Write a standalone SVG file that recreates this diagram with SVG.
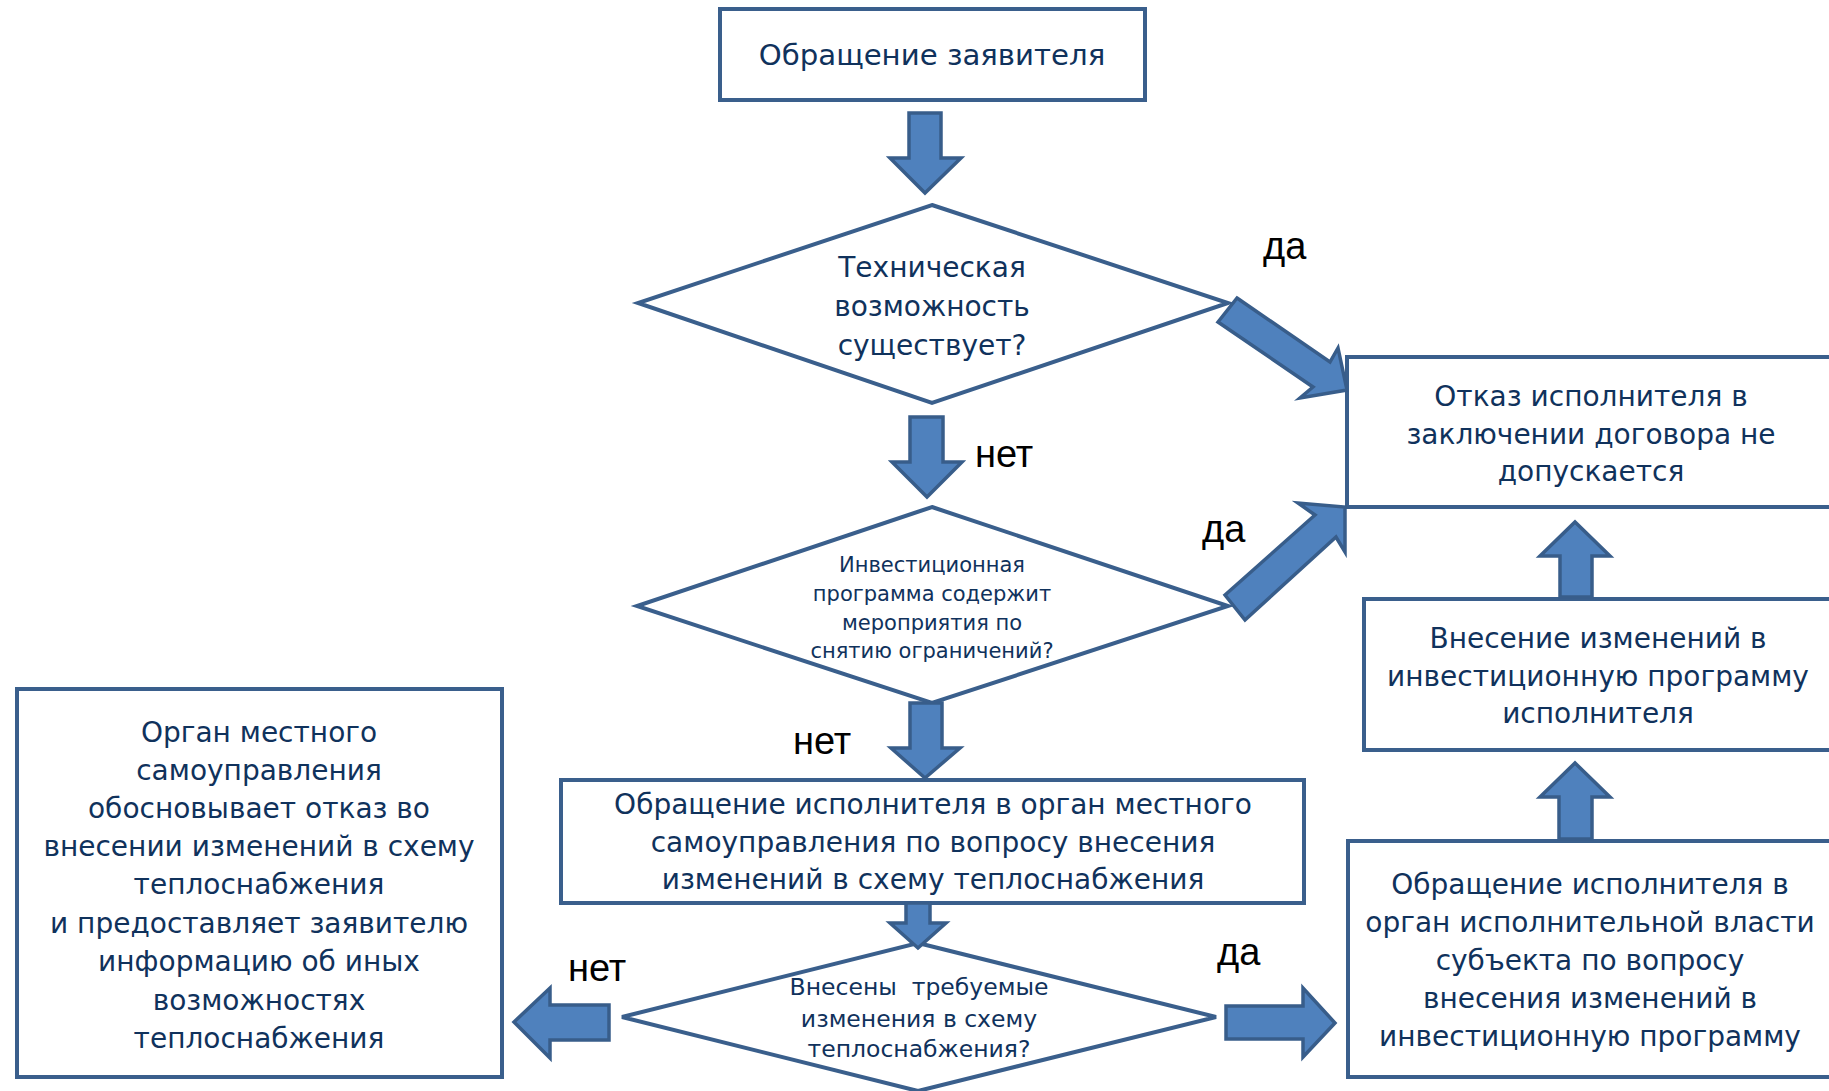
<svg xmlns="http://www.w3.org/2000/svg" width="1829" height="1091" viewBox="0 0 1829 1091">
<style>
.box{fill:#ffffff;stroke:#3A5F8C;stroke-width:4;stroke-linejoin:miter}
.dia{fill:#ffffff;stroke:#3A5F8C;stroke-width:4;stroke-linejoin:miter}
.arr{fill:#4F81BD;stroke:#385D8A;stroke-width:3.5;stroke-linejoin:miter}
.t{font-family:"DejaVu Sans",Verdana,sans-serif;fill:#10325C;text-anchor:middle}
.lbl{font-family:"Liberation Sans",Arial,sans-serif;font-size:38px;fill:#000000}
</style>
<rect width="1829" height="1091" fill="#ffffff"/>
<g id="n-start">
<rect class="box" x="720" y="9" width="425" height="91"/>
<text class="t" x="932" y="65" font-size="29.2">Обращение заявителя</text>
</g>
<g id="n-tech">
<polygon class="dia" points="932,205 1228,303 932,403 638,303"/>
<text class="t" font-size="28"><tspan x="932" y="277">Техническая</tspan><tspan x="932" y="316">возможность</tspan><tspan x="932" y="355">существует?</tspan></text>
</g>
<g id="n-invest">
<polygon class="dia" points="932,507 1228,606 932,703 637,606"/>
<text class="t" font-size="21"><tspan x="932" y="572">Инвестиционная</tspan><tspan x="932" y="601">программа содержит</tspan><tspan x="932" y="630">мероприятия по</tspan><tspan x="932" y="658">снятию ограничений?</tspan></text>
</g>
<g id="n-refuse">
<rect class="box" x="1347" y="357" width="500" height="150"/>
<text class="t" font-size="28"><tspan x="1591" y="406">Отказ исполнителя в</tspan><tspan x="1591" y="444">заключении договора не</tspan><tspan x="1591" y="481">допускается</tspan></text>
</g>
<g id="n-change-invest">
<rect class="box" x="1364" y="599" width="483" height="151"/>
<text class="t" font-size="28"><tspan x="1598" y="648">Внесение изменений в</tspan><tspan x="1598" y="686">инвестиционную программу</tspan><tspan x="1598" y="723">исполнителя</tspan></text>
</g>
<g id="n-local">
<rect class="box" x="561" y="780" width="743" height="123"/>
<text class="t" font-size="28"><tspan x="933" y="814">Обращение исполнителя в орган местного</tspan><tspan x="933" y="852">самоуправления по вопросу внесения</tspan><tspan x="933" y="889">изменений в схему теплоснабжения</tspan></text>
</g>
<g id="n-scheme">
<polygon class="dia" points="918,943 1216,1017 918,1091 622,1017"/>
<text class="t" font-size="23.5" xml:space="preserve"><tspan x="919" y="995">Внесены  требуемые</tspan><tspan x="919" y="1027">изменения в схему</tspan><tspan x="919" y="1057">теплоснабжения?</tspan></text>
</g>
<g id="n-local-refuse">
<rect class="box" x="17" y="689" width="485" height="388"/>
<text class="t" font-size="28"><tspan x="259" y="742">Орган местного</tspan><tspan x="259" y="780">самоуправления</tspan><tspan x="259" y="818">обосновывает отказ во</tspan><tspan x="259" y="856">внесении изменений в схему</tspan><tspan x="259" y="894">теплоснабжения</tspan><tspan x="259" y="933">и предоставляет заявителю</tspan><tspan x="259" y="971">информацию об иных</tspan><tspan x="259" y="1010">возможностях</tspan><tspan x="259" y="1048">теплоснабжения</tspan></text>
</g>
<g id="n-region">
<rect class="box" x="1348" y="841" width="499" height="236"/>
<text class="t" font-size="28"><tspan x="1590" y="894">Обращение исполнителя в</tspan><tspan x="1590" y="932">орган исполнительной власти</tspan><tspan x="1590" y="970">субъекта по вопросу</tspan><tspan x="1590" y="1008">внесения изменений в</tspan><tspan x="1590" y="1046">инвестиционную программу</tspan></text>
</g>
<g id="connectors">
<polygon class="arr" points="909,113 941,113 941,158 961,158 925,193 890,158 909,158"/>
<polygon class="arr" points="910,417 943,417 943,462 962,462 927,497 892,462 910,462"/>
<polygon class="arr" points="910,703 942,703 942,748 960,748 925,778 891,748 910,748"/>
<polygon class="arr" points="906,903 930,903 930,923 946,923 918,948 890,923 906,923"/>
<polygon class="arr" points="609,1005 609,1040 550,1040 550,1058 514,1022 550,988 550,1005"/>
<polygon class="arr" points="1226,1006 1303,1006 1303,988 1335,1023 1303,1057 1303,1039 1226,1039"/>
<polygon class="arr" points="1559,839 1559,797 1540,797 1575,763 1610,797 1592,797 1592,839"/>
<polygon class="arr" points="1560,597 1560,556 1540,556 1575,522 1610,556 1592,556 1592,597"/>
<polygon class="arr" points="1237,298 1330,362 1338,348 1347,390 1300,398 1313,387 1218,322"/>
<polygon class="arr" points="1225,595 1315,515 1298,503 1345,507 1345,552 1336,537 1245,620"/>
<text class="lbl" x="1263" y="259">да</text>
<text class="lbl" x="975" y="467">нет</text>
<text class="lbl" x="1202" y="542">да</text>
<text class="lbl" x="793" y="754">нет</text>
<text class="lbl" x="568" y="981">нет</text>
<text class="lbl" x="1217" y="965">да</text>
</g>
</svg>
